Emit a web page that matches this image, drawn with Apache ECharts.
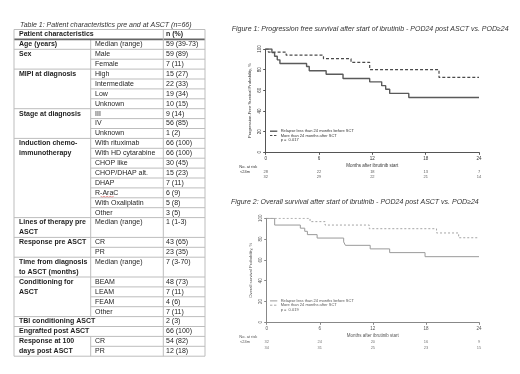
<!DOCTYPE html>
<html><head><meta charset="utf-8">
<script src="https://cdn.jsdelivr.net/npm/echarts@6/dist/echarts.min.js"></script>
<style>html,body{margin:0;padding:0;background:#fff;width:520px;height:374px;overflow:hidden}
.c{position:absolute;left:0;top:0;width:520px;height:374px}</style></head>
<body>
<div id="t" class="c"></div><div id="f1" class="c"></div><div id="f2" class="c"></div>
<script>
// ---------- Table data ----------
const tableTitle = 'Table 1: Patient characteristics pre and at ASCT (n=66)';
const headerCols = ['Patient characteristics', 'n (%)'];
const groupLabels = [['Age (years)'], ['Sex'], ['MIPI at diagnosis'], ['Stage at diagnosis'],
  ['Induction chemo-', 'immunotherapy'], ['Lines of therapy pre', 'ASCT'], ['Response pre ASCT'],
  ['Time from diagnosis', 'to ASCT (months)'], ['Conditioning for', 'ASCT'], ['TBI conditioning ASCT'],
  ['Engrafted post ASCT'], ['Response at 100', 'days post ASCT']];
const groupItems = [
  [['Median (range)', '59 (39-73)']],
  [['Male', '59 (89)'], ['Female', '7 (11)']],
  [['High', '15 (27)'], ['Intermediate', '22 (33)'], ['Low', '19 (34)'], ['Unknown', '10 (15)']],
  [['III', '9 (14)'], ['IV', '56 (85)'], ['Unknown', '1 (2)']],
  [['With rituximab', '66 (100)'], ['With HD cytarabine', '66 (100)'], ['CHOP like', '30 (45)'],
   ['CHOP/DHAP alt.', '15 (23)'], ['DHAP', '7 (11)'], ['R-AraC', '6 (9)'], ['With Oxaliplatin', '5 (8)'], ['Other', '3 (5)']],
  [['Median (range)', '1 (1-3)']],
  [['CR', '43 (65)'], ['PR', '23 (35)']],
  [['Median (range)', '7 (3-70)']],
  [['BEAM', '48 (73)'], ['LEAM', '7 (11)'], ['FEAM', '4 (6)'], ['Other', '7 (11)']],
  [[null, '2 (3)']],
  [[null, '66 (100)']],
  [['CR', '54 (82)'], ['PR', '12 (18)']]
];

// ---------- Figure data ----------
const fig1Title = 'Figure 1: Progression free survival after start of ibrutinib - POD24 post ASCT vs. POD\u226524';
const fig2Title = 'Figure 2: Overall survival after start of ibrutinib - POD24 post ASCT vs. POD\u226524';
const seriesNames = ['Relapse less than 24 months before SCT', 'More than 24 months after SCT'];
const xAxisName = 'Months after ibrutinib start';
const fig1YName = 'Progression-Free Survival Probability, %';
const fig2YName = 'Overall survival Probability, %';
const fig1P = 'p =  0.017';
const fig2P = 'p =  0.019';

const pfsTimesA = [0, 0.7, 1.0, 1.3, 1.6, 4.6, 4.9, 6.8, 8.7, 11.7, 13.05, 13.5, 13.95, 16.1, 24];
const pfsA      = [100, 96.5, 93, 89.5, 86, 83, 79, 75.5, 71.5, 68.2, 64.5, 61, 57, 53, 53];
const pfsTimesB = [0, 0.3, 2.3, 6.5, 9.6, 11.7, 19.5, 24];
const pfsB      = [100, 97, 94, 90.6, 87, 80, 72.5, 72.5];

const osTimesA = [0, 0.9, 3.8, 4.3, 4.6, 5.7, 8.7, 8.9, 11.7, 13.9, 17.9, 24];
const osA      = [100, 93.5, 90.5, 87.5, 84.3, 81, 77.3, 74, 70.6, 67, 63.1, 63.1];
const osTimesB = [0, 4.9, 6.6, 11.6, 19.2, 21.7, 24];
const osB      = [100, 96.8, 93.5, 90, 85.9, 81.3, 81.3];

const riskLabel = 'No. at risk';
const riskGroups = ['<24m', '>24m'];
const riskMonths = [0, 6, 12, 18, 24];
const fig1RiskA = [28, 22, 18, 13, 7];
const fig1RiskB = [32, 29, 22, 21, 14];
const fig2RiskA = [32, 24, 20, 16, 9];
const fig2RiskB = [34, 31, 25, 23, 15];

// ---------- Table drawing ----------
const FF = '"Liberation Sans", Arial, sans-serif';
const X0 = 14, X1 = 90.7, X2 = 163.3, X3 = 205, TOP = 29.5, RH = 9.9;
const els = [];
function txt(x, y, s, o) {
  els.push({type: 'text', silent: true, style: Object.assign({
    x: x, y: y, text: s, fill: '#1e1e1e', fontSize: 7, fontFamily: FF, align: 'left', verticalAlign: 'middle'}, o || {})});
}
function ln(x1, y1, x2, y2, c, w) {
  els.push({type: 'line', silent: true, shape: {x1: x1, y1: y1, x2: x2, y2: y2},
    style: {stroke: c || '#bdbdbd', lineWidth: w || 1}});
}
txt(20, 25, tableTitle, {fontStyle: 'italic', fill: '#333'});
txt(X0 + 5, TOP + RH / 2, headerCols[0], {fontWeight: 'bold'});
txt(X2 + 2.7, TOP + RH / 2, headerCols[1], {fontWeight: 'bold'});
ln(X0, TOP, X3, TOP);
let r = 1;
groupLabels.forEach((lab, gi) => {
  const items = groupItems[gi];
  const h = Math.max(lab.length, items.length);
  const top = TOP + RH * r;
  lab.forEach((s, k) => txt(X0 + 5, top + RH * (k + 0.5), s, {fontWeight: 'bold'}));
  const span = items[0][0] === null;
  items.forEach((it, i) => {
    const yc = top + RH * (i + 0.5);
    if (it[0] !== null) {
      txt(X1 + 4.3, yc, it[0]);
      if (it[0] === 'R-AraC') {
        const pts = []; for (let k = 0; k <= 8; k++) pts.push([X1 + 10 + k * 1.6, yc + 3.6 + (k % 2 ? 0.8 : 0)]);
        els.push({type: 'polyline', silent: true, shape: {points: pts}, style: {stroke: '#d33', lineWidth: 0.6, fill: null}});
      }
    }
    txt(X2 + 2.7, yc, it[1]);
    if (i > 0) ln(X1, top + RH * i, X3, top + RH * i);
  });
  if (!span) ln(X1, top, X1, top + RH * h);
  r += h;
  ln(X0, TOP + RH * r, X3, TOP + RH * r);
});
const BOT = TOP + RH * r;
ln(X0, TOP + RH, X3, TOP + RH, '#666', 1.6);
ln(X0, TOP, X0, BOT); ln(X2, TOP, X2, BOT); ln(X3, TOP, X3, BOT);
txt(231.7, 29.3, fig1Title, {fontStyle: 'italic', fill: '#333'});
txt(231, 202.3, fig2Title, {fontStyle: 'italic', fill: '#333'});

const ct = echarts.init(document.getElementById('t'), null, {renderer: 'canvas'});
ct.setOption({animation: false, backgroundColor: '#fff', graphic: els});

// ---------- KM figures ----------
function pairs(t, v) { return t.map((x, i) => [x, v[i]]); }
function kmOption(o) {
  const tick = {length: 2.5, lineStyle: {color: o.axis, width: 1}};
  const g = [];
  seriesNames.forEach((nm, i) => {
    const y = o.legY + i * 4.3;
    g.push({type: 'line', silent: true, shape: {x1: 270, y1: y, x2: 277.3, y2: y},
      style: {stroke: i ? o.colB : o.colA, lineWidth: i ? o.wB : o.wA, lineDash: i ? [2.4, 1.6] : null}});
    g.push({type: 'text', silent: true, style: {x: 280.7, y: y, text: nm, fontSize: 4, fill: o.text, fontFamily: FF, verticalAlign: 'middle'}});
  });
  g.push({type: 'text', silent: true, style: {x: 280.7, y: o.legY + 8.6, text: o.p, fontSize: 4, fill: o.text, fontFamily: FF, verticalAlign: 'middle'}});
  g.push({type: 'text', silent: true, style: {x: 239.3, y: o.riskLabelY, text: riskLabel, fontSize: 4, fill: o.text, fontFamily: FF, verticalAlign: 'middle'}});
  const riskSeries = (vals, row) => ({type: 'scatter', xAxisIndex: 1, yAxisIndex: 1, symbolSize: 1,
    itemStyle: {color: 'rgba(0,0,0,0)'}, silent: true,
    data: riskMonths.map((m, i) => [m, row, vals[i]]),
    label: {show: true, position: 'inside', formatter: p => String(p.value[2]), fontSize: 4, color: o.text, fontFamily: FF}});
  return {
    animation: false,
    backgroundColor: 'transparent',
    textStyle: {fontFamily: FF},
    grid: [{left: o.left, top: o.top, width: o.w, height: o.h},
           {left: o.left, top: o.riskTop, width: o.w, height: o.riskH}],
    xAxis: [
      {type: 'value', gridIndex: 0, min: 0, max: 24, interval: 6,
       axisLine: {lineStyle: {color: o.axis, width: 1}}, axisTick: tick,
       axisLabel: {fontSize: 4.5, color: o.text, margin: 3.5, fontFamily: FF}, splitLine: {show: false},
       name: xAxisName, nameLocation: 'middle', nameGap: 10.5,
       nameTextStyle: {fontSize: 4.5, color: o.text, fontFamily: FF}},
      {type: 'value', gridIndex: 1, min: 0, max: 24, show: false}
    ],
    yAxis: [
      {type: 'value', gridIndex: 0, min: 0, max: 100, interval: 20,
       axisLine: {show: true, lineStyle: {color: o.axis, width: 1}}, axisTick: Object.assign({show: true}, tick),
       axisLabel: {rotate: 90, fontSize: 4.5, color: o.text, margin: 3, fontFamily: FF}, splitLine: {show: false},
       name: o.yName, nameLocation: 'middle', nameGap: 13.5,
       nameTextStyle: {fontSize: 4.2, color: o.text, fontFamily: FF}},
      {type: 'category', gridIndex: 1, data: riskGroups, inverse: true,
       axisLine: {show: false}, axisTick: {show: false},
       axisLabel: {fontSize: 4, color: o.text, align: 'left', margin: o.left - 240, fontFamily: FF}}
    ],
    graphic: g,
    series: [
      {name: seriesNames[0], type: 'line', step: 'end', showSymbol: false, symbol: 'none', data: pairs(o.tA, o.vA),
       lineStyle: {color: o.colA, width: o.wA}, itemStyle: {color: o.colA}, silent: true},
      {name: seriesNames[1], type: 'line', step: 'end', showSymbol: false, symbol: 'none', data: pairs(o.tB, o.vB),
       lineStyle: {color: o.colB, width: o.wB, type: o.dash}, itemStyle: {color: o.colB}, silent: true},
      riskSeries(o.rA, 0),
      riskSeries(o.rB, 1)
    ]
  };
}
const c1 = echarts.init(document.getElementById('f1'), null, {renderer: 'canvas'});
c1.setOption(kmOption({left: 265.7, top: 49, w: 213.3, h: 103.3, riskTop: 169, riskH: 10,
  axis: '#555', text: '#333', yName: fig1YName, p: fig1P, legY: 131.2, riskLabelY: 166.5,
  tA: pfsTimesA, vA: pfsA, tB: pfsTimesB, vB: pfsB, rA: fig1RiskA, rB: fig1RiskB,
  colA: '#5a5a5a', wA: 1.4, colB: '#4a4a4a', wB: 1.2, dash: [3, 2]}));
const c2 = echarts.init(document.getElementById('f2'), null, {renderer: 'canvas'});
c2.setOption(kmOption({left: 266.7, top: 218.3, w: 212.3, h: 104, riskTop: 338.4, riskH: 13.2,
  axis: '#888', text: '#555', yName: fig2YName, p: fig2P, legY: 300.9, riskLabelY: 336.7,
  tA: osTimesA, vA: osA, tB: osTimesB, vB: osB, rA: fig2RiskA, rB: fig2RiskB,
  colA: '#9a9a9a', wA: 1, colB: '#a5a5a5', wB: 1, dash: [2, 2]}));
</script></body></html>
